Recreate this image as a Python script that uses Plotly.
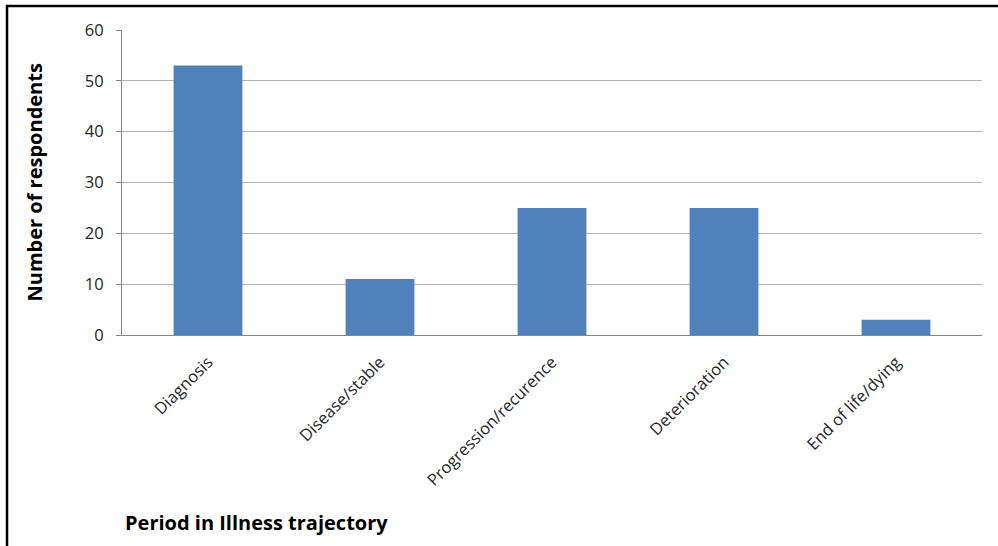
import plotly.graph_objects as go

categories = ["Diagnosis", "Disease/stable", "Progression/recurence", "Deterioration", "End of life/dying"]
respondents = [53, 11, 25, 25, 3]
y_ticks = [0, 10, 20, 30, 40, 50, 60]

W, H = 998, 546
L, R, T, B = 122, 16, 30, 211
pw = W - L - R
ph = H - T - B

def px_x(x):
    return (x - L) / pw

def px_y(y):
    return (H - B - y) / ph

font_family = "Open Sans, Lato, sans-serif"
txt = "#262626"

fig = go.Figure(go.Bar(
    x=categories, y=respondents,
    marker=dict(color="#4F81BD", line=dict(width=0)),
    width=0.4,
))

fig.update_layout(
    width=W, height=H,
    margin=dict(l=L, r=R, t=T, b=B),
    paper_bgcolor="white", plot_bgcolor="white",
    showlegend=False,
    font=dict(family=font_family, color=txt),
    xaxis=dict(
        showline=True, linecolor="#868686", linewidth=1,
        showgrid=False, ticks="", tickangle=-45,
        tickfont=dict(size=16.5, color=txt), ticklabelstandoff=10,
    ),
    yaxis=dict(
        range=[0, 60], tickvals=y_ticks,
        showline=True, linecolor="#868686", linewidth=1,
        showgrid=True, gridcolor="#B3B3B3", gridwidth=1,
        ticks="outside", ticklen=5, tickcolor="#868686",
        tickfont=dict(size=16.5, color=txt), ticklabelstandoff=9,
        zeroline=False,
    ),
    annotations=[
        dict(text="<b>Number of respondents</b>", textangle=-90,
             x=px_x(34), y=0.5, xref="paper", yref="paper",
             xanchor="center", yanchor="middle", showarrow=False,
             font=dict(size=20, color="#000000", family=font_family)),
        dict(text="<b>Period in Illness trajectory</b>",
             x=px_x(123), y=px_y(522), xref="paper", yref="paper",
             xanchor="left", yanchor="middle", showarrow=False,
             font=dict(size=20, color="#000000", family=font_family)),
    ],
    shapes=[
        dict(type="line", xref="paper", yref="paper",
             x0=px_x(7), x1=px_x(7), y0=px_y(H + 5), y1=px_y(5),
             line=dict(color="black", width=2.5)),
        dict(type="line", xref="paper", yref="paper",
             x0=px_x(6), x1=px_x(W + 5), y0=px_y(6), y1=px_y(6),
             line=dict(color="black", width=2.5)),
    ],
)

fig.write_html("out.html", config={"displayModeBar": False},
               post_script="document.body.style.margin='0';")
